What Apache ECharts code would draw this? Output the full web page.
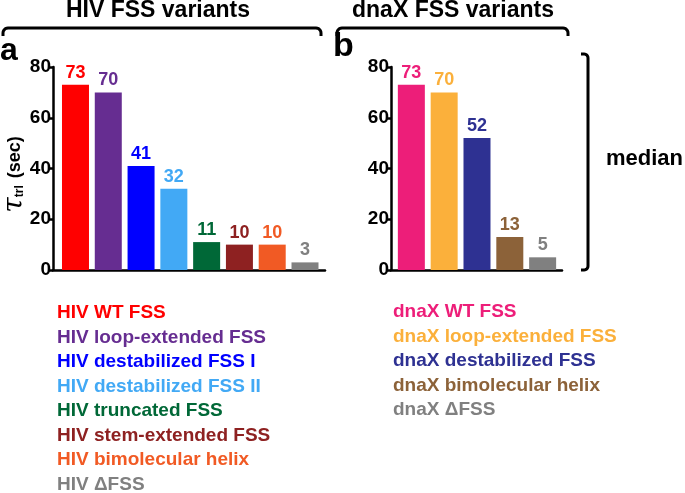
<!DOCTYPE html>
<html>
<head>
<meta charset="utf-8">
<script src="https://cdn.jsdelivr.net/npm/echarts@6/dist/echarts.min.js"></script>
<style>html,body{margin:0;padding:0;background:#fff}#c{width:685px;height:493px}</style>
</head>
<body>
<div id="c"></div>
<script>
// ---- data ----
var hivNames = ['HIV WT FSS','HIV loop-extended FSS','HIV destabilized FSS I','HIV destabilized FSS II','HIV truncated FSS','HIV stem-extended FSS','HIV bimolecular helix','HIV \u0394FSS'];
var hivValues = [73, 70, 41, 32, 11, 10, 10, 3];
var hivColors = ['#ff0000','#662d91','#0000ff','#42a9f5','#006837','#8e2121','#f15a24','#808080'];

var dnaxNames = ['dnaX WT FSS','dnaX loop-extended FSS','dnaX destabilized FSS','dnaX bimolecular helix','dnaX \u0394FSS'];
var dnaxValues = [73, 70, 52, 13, 5];
var dnaxColors = ['#ed1e79','#fbb03b','#2e3192','#8c6239','#808080'];

var yTicks = [0, 20, 40, 60, 80];

var FONT = '"Liberation Sans", Arial, sans-serif';

function barData(vals, cols) {
  return vals.map(function (v, i) {
    return { value: [i, v], itemStyle: { color: cols[i] }, label: { color: cols[i] } };
  });
}

function yAxisDef(gridIndex, withName) {
  var ax = {
    type: 'value', gridIndex: gridIndex, min: yTicks[0], max: yTicks[yTicks.length - 1],
    interval: yTicks[1] - yTicks[0],
    axisLine: { show: true, onZero: false, lineStyle: { color: '#000', width: 2.5 } },
    axisTick: { show: true, length: 5, lineStyle: { color: '#000', width: 2.5 } },
    axisLabel: { color: '#000', fontSize: 19, fontWeight: 'bold', fontFamily: FONT, margin: 2 },
    splitLine: { show: false }
  };
  if (withName) {
    ax.name = '{t|\u03c4}{s|trl} (sec)';
    ax.nameLocation = 'middle';
    ax.nameRotate = 90;
    ax.nameGap = 24;
    ax.nameMoveOverlap = false;
    ax.nameTextStyle = {
      color: '#000', fontSize: 18, fontWeight: 'bold', fontFamily: FONT, padding: [0, 12, 0, 0],
      rich: {
        t: { fontSize: 28, fontWeight: 'normal', fontFamily: '"DejaVu Serif", serif', fontStyle: 'italic', color: '#000' },
        s: { fontSize: 12, fontWeight: 'bold', fontFamily: FONT, color: '#000', padding: [10, 2, 0, 0] }
      }
    };
  }
  return ax;
}

function xAxisDef(gridIndex, min, max) {
  return {
    type: 'value', gridIndex: gridIndex, min: min, max: max,
    axisLine: { show: true, onZero: false, lineStyle: { color: '#000', width: 2.5 } },
    axisTick: { show: false }, axisLabel: { show: false }, splitLine: { show: false }
  };
}

var labelStyle = { show: true, position: 'top', distance: 3, fontSize: 18, fontWeight: 'bold', fontFamily: FONT,
  formatter: function (p) { return p.value[1]; } };

var graphics = [];
function txt(x, y, text, size, color, align) {
  graphics.push({ type: 'text', x: x, y: y, style: { text: text, fill: color || '#000',
    font: 'bold ' + size + 'px ' + FONT, textAlign: align || 'left', textVerticalAlign: 'middle' } });
}
txt(158, 11, 'HIV FSS variants', 23, '#000', 'center');
txt(453, 11, 'dnaX FSS variants', 23, '#000', 'center');
txt(0, 51, 'a', 32, '#000', 'left');
txt(333, 47, 'b', 34, '#000', 'left');
txt(606, 159, 'median', 22, '#000', 'left');

// rounded corner helper: quarter arc points
function arcPts(cx, cy, r, a0, a1) {
  var pts = [];
  for (var k = 0; k <= 6; k++) {
    var a = a0 + (a1 - a0) * k / 6;
    pts.push([cx + r * Math.cos(a), cy + r * Math.sin(a)]);
  }
  return pts;
}
function brace(x1, x2, y, yEnd) {
  var r = 5, P = Math.PI;
  var pts = [[x1, yEnd]].concat(arcPts(x1 + r, y + r, r, P, 1.5 * P))
    .concat(arcPts(x2 - r, y + r, r, 1.5 * P, 2 * P)).concat([[x2, yEnd]]);
  graphics.push({ type: 'polyline', shape: { points: pts }, style: { stroke: '#000', lineWidth: 3, fill: null } });
}
brace(3, 321, 28, 36);
brace(337, 568, 28, 36);
(function () {
  var r = 4, P = Math.PI;
  var pts = [[581, 54]].concat(arcPts(588 - r, 54 + r, r, 1.5 * P, 2 * P))
    .concat(arcPts(588 - r, 270 - r, r, 0, 0.5 * P)).concat([[581, 270]]);
  graphics.push({ type: 'polyline', shape: { points: pts }, style: { stroke: '#000', lineWidth: 3, fill: null } });
})();

var rowH = 24.5;
hivNames.forEach(function (n, i) { txt(57, 313 + i * rowH, n, 19, hivColors[i]); });
dnaxNames.forEach(function (n, i) { txt(393, 312 + i * rowH, n, 19, dnaxColors[i]); });

var chart = echarts.init(document.getElementById('c'), null, { renderer: 'canvas' });
chart.setOption({
  animation: false,
  backgroundColor: '#fff',
  grid: [
    { left: 53, top: 67, width: 272, height: 203, containLabel: false, outerBoundsMode: 'none' },
    { left: 391, top: 67, width: 171, height: 203, containLabel: false, outerBoundsMode: 'none' }
  ],
  xAxis: [xAxisDef(0, -0.686, 7.61), xAxisDef(1, -0.62, 4.59)],
  yAxis: [yAxisDef(0, true), yAxisDef(1, false)],
  series: [
    { type: 'bar', xAxisIndex: 0, yAxisIndex: 0, barWidth: 27, data: barData(hivValues, hivColors), label: labelStyle },
    { type: 'bar', xAxisIndex: 1, yAxisIndex: 1, barWidth: 27, data: barData(dnaxValues, dnaxColors), label: labelStyle }
  ],
  graphic: graphics
});
</script>
</body>
</html>
